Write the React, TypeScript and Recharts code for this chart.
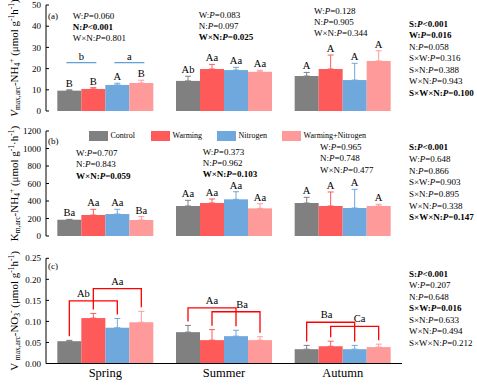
import React from 'react';
import { BarChart, Bar, XAxis, YAxis, ErrorBar, Legend, Label } from 'recharts';

const FONT = '"Liberation Serif", "Times New Roman", Times, serif';

// ---------- categories / series ----------
const seasons = ['Spring', 'Summer', 'Autumn'];
const treatments = ['Control', 'Warming', 'Nitrogen', 'Warming+Nitrogen'];
const seriesKeys = ['c', 'w', 'n', 'wn'];
const seriesColors = ['#808080', '#ff5a5a', '#6fa8dc', '#ff9a9a'];

// ---------- (a) Vmax,arc-NH4+ ----------
const vmaxNH4Control = [9.6, 14.2, 16.5];
const vmaxNH4Warming = [10.4, 19.8, 19.8];
const vmaxNH4Nitrogen = [12.3, 19.3, 14.6];
const vmaxNH4WN = [13.2, 18.5, 23.6];
const vmaxNH4ControlSE = [0.4, 2.2, 1.7];
const vmaxNH4WarmingSE = [0.6, 2.2, 6.6];
const vmaxNH4NitrogenSE = [0.8, 1.3, 7.9];
const vmaxNH4WNSE = [1.3, 0.7, 4.8];
const vmaxNH4ControlLetters = ['B', 'Ab', 'A'];
const vmaxNH4WarmingLetters = ['B', 'Aa', 'A'];
const vmaxNH4NitrogenLetters = ['A', 'Aa', 'A'];
const vmaxNH4WNLetters = ['B', 'Aa', 'A'];
const vmaxNH4Groups = [
  { season: 0, from: 0, to: 1, level: 22.8, label: 'b' },
  { season: 0, from: 2, to: 3, level: 22.8, label: 'a' },
];
const vmaxNH4Ticks = [0, 10, 20, 30, 40, 50];

// ---------- (b) Km,arc-NH4+ ----------
const kmNH4Control = [186, 343, 377];
const kmNH4Warming = [240, 377, 343];
const kmNH4Nitrogen = [251, 419, 320];
const kmNH4WN = [183, 316, 343];
const kmNH4ControlSE = [4, 65, 65];
const kmNH4WarmingSE = [65, 46, 160];
const kmNH4NitrogenSE = [54, 87, 213];
const kmNH4WNSE = [38, 53, 19];
const kmNH4ControlLetters = ['Ba', 'Aa', 'A'];
const kmNH4WarmingLetters = ['Aa', 'Aa', 'A'];
const kmNH4NitrogenLetters = ['Aa', 'Aa', 'A'];
const kmNH4WNLetters = ['Ba', 'Aa', 'A'];
const kmNH4Ticks = [0, 200, 400, 600, 800, 1000, 1200];

// ---------- (c) Vmax,arc-NO3- ----------
const vmaxNO3Control = [0.053, 0.0745, 0.034];
const vmaxNO3Warming = [0.108, 0.0555, 0.041];
const vmaxNO3Nitrogen = [0.085, 0.065, 0.034];
const vmaxNO3WN = [0.098, 0.0555, 0.039];
const vmaxNO3ControlSE = [0.002, 0.016, 0.009];
const vmaxNO3WarmingSE = [0.011, 0.025, 0.012];
const vmaxNO3NitrogenSE = [0.022, 0.014, 0.009];
const vmaxNO3WNSE = [0.026, 0.008, 0.007];
const vmaxNO3Brackets = [
  { season: 0, from: 0, to: 2, level: 0.149, label: 'Ab' },
  { season: 0, from: 1, to: 3, level: 0.178, label: 'Aa' },
  { season: 1, from: 0, to: 2, level: 0.132, label: 'Aa' },
  { season: 1, from: 1, to: 3, level: 0.123, label: 'Ba' },
  { season: 2, from: 0, to: 2, level: 0.098, label: 'Ba' },
  { season: 2, from: 1, to: 3, level: 0.088, label: 'Ca' },
];
const bracketLabelShift = [-10, 0, 0, 6, -4, 5];
const vmaxNO3Ticks = [0, 0.05, 0.1, 0.15, 0.2, 0.25];

// ---------- statistics text ----------
const seasonStatsA = [
  ['W:P=0.060', 'N:P<0.001', 'W×N:P=0.801'],
  ['W:P=0.083', 'N:P=0.097', 'W×N:P=0.025'],
  ['W:P=0.128', 'N:P=0.905', 'W×N:P=0.344'],
];
const seasonBoldA = [[false, true, false], [false, false, true], [false, false, false]];
const seasonStatsB = [
  ['W:P=0.707', 'N:P=0.843', 'W×N:P=0.059'],
  ['W:P=0.373', 'N:P=0.962', 'W×N:P=0.103'],
  ['W:P=0.965', 'N:P=0.748', 'W×N:P=0.477'],
];
const seasonBoldB = [[false, false, true], [false, false, true], [false, false, false]];
const statsA = ['S:P<0.001', 'W:P=0.016', 'N:P=0.058', 'S×W:P=0.316', 'S×N:P=0.388', 'W×N:P=0.943', 'S×W×N:P=0.100'];
const statsABold = [true, true, false, false, false, false, true];
const statsB = ['S:P<0.001', 'W:P=0.648', 'N:P=0.866', 'S×W:P=0.903', 'S×N:P=0.895', 'W×N:P=0.338', 'S×W×N:P=0.147'];
const statsBBold = [true, false, false, false, false, false, true];
const statsC = ['S:P<0.001', 'W:P=0.207', 'N:P=0.648', 'S×W:P=0.016', 'S×N:P=0.633', 'W×N:P=0.494', 'S×W×N:P=0.212'];
const statsCBold = [true, false, false, true, false, false, false];

type Group = { season: number; from: number; to: number; level: number; label: string };
type Panel = {
  vals: number[][];
  ses: number[][];
  letters?: string[][];
  groups?: Group[];
  brackets?: Group[];
  ticks: number[];
  fmt?: (v: number) => string;
  axisLabel: (props: any) => React.ReactElement;
};

function buildRows(p: Panel) {
  return seasons.map((season, i) => {
    const row: any = { season };
    seriesKeys.forEach((k, j) => {
      row[k] = p.vals[j][i];
      row[k + 'SE'] = [0, p.ses[j][i]];
    });
    return row;
  });
}

function makeShape(p: Panel, j: number) {
  return (props: any) => {
    const { x, y, width, height, payload } = props;
    const i = seasons.indexOf(payload?.season);
    const v = p.vals[j][i];
    if (!(height > 0) || !v) return <g />;
    const ppu = height / v;
    const base = y + height;
    const py = (val: number) => base - val * ppu;
    const cx = x + width / 2;
    const els: React.ReactElement[] = [
      <rect key="r" x={x} y={y} width={width} height={height} fill={seriesColors[j]} />,
    ];
    if (p.letters) {
      els.push(
        <text key="l" x={cx} y={py(v + p.ses[j][i]) - 3} textAnchor="middle" fontSize={10.5} fontFamily={FONT} fill="#000">
          {p.letters[j][i]}
        </text>
      );
    }
    (p.groups || []).forEach((g, gi) => {
      if (g.season !== i || g.from !== j) return;
      const x1 = cx - 3;
      const x2 = cx + (g.to - g.from) * width + 3;
      const yl = py(g.level);
      els.push(<line key={'g' + gi} x1={x1} x2={x2} y1={yl} y2={yl} stroke="#5b9bd5" strokeWidth={1.2} />);
      els.push(
        <text key={'gt' + gi} x={(x1 + x2) / 2} y={yl - 3} textAnchor="middle" fontSize={10.5} fontFamily={FONT} fill="#000">
          {g.label}
        </text>
      );
    });
    (p.brackets || []).forEach((b, bi) => {
      if (b.season !== i || b.from !== j) return;
      const x1 = cx;
      const x2 = cx + (b.to - b.from) * width;
      const yb = py(b.level);
      const l1 = py(v + p.ses[j][i]) - 4;
      const l2 = py(p.vals[b.to][i] + p.ses[b.to][i]) - 4;
      els.push(
        <path key={'b' + bi} d={`M${x1},${l1}L${x1},${yb}L${x2},${yb}L${x2},${l2}`} fill="none" stroke="#ff0000" strokeWidth={1.3} />
      );
      els.push(
        <text key={'bt' + bi} x={(x1 + x2) / 2 + bracketLabelShift[bi]} y={yb - 4} textAnchor="middle" fontSize={10.5} fontFamily={FONT} fill="#000">
          {b.label}
        </text>
      );
    });
    return <g>{els}</g>;
  };
}

function rotatedLabel(children: React.ReactNode) {
  return (props: any) => {
    const vb = props.viewBox || {};
    const cy = (vb.y ?? 0) + (vb.height ?? 0) / 2;
    const bx = 18;
    return (
      <text transform="rotate(-90)" x={-cy} y={bx} textAnchor="middle" fontSize={11} fontFamily={FONT} fill="#000">
        {children}
      </text>
    );
  };
}

const S = 7.5;
const labelA = rotatedLabel([
  <tspan key="1" fontStyle="italic">V</tspan>,
  <tspan key="2" fontSize={S} dy={2}>max,arc</tspan>,
  <tspan key="3" dy={-2}>-NH</tspan>,
  <tspan key="4" fontSize={S} dy={2}>4</tspan>,
  <tspan key="5" fontSize={S} dy={-6}>+</tspan>,
  <tspan key="6" dy={4}> (μmol g</tspan>,
  <tspan key="7" fontSize={S} dy={-4}>-1</tspan>,
  <tspan key="8" dy={4}>h</tspan>,
  <tspan key="9" fontSize={S} dy={-4}>-1</tspan>,
  <tspan key="10" dy={4}>)</tspan>,
]);
const labelB = rotatedLabel([
  <tspan key="1">K</tspan>,
  <tspan key="2" fontSize={S} dy={2}>m,arc</tspan>,
  <tspan key="3" dy={-2}>-NH</tspan>,
  <tspan key="4" fontSize={S} dy={2}>4</tspan>,
  <tspan key="5" fontSize={S} dy={-6}>+</tspan>,
  <tspan key="6" dy={4}> (μmol g</tspan>,
  <tspan key="7" fontSize={S} dy={-4}>-1</tspan>,
  <tspan key="8" dy={4}>·h</tspan>,
  <tspan key="9" fontSize={S} dy={-4}>-1</tspan>,
  <tspan key="10" dy={4}>)</tspan>,
]);
const labelC = rotatedLabel([
  <tspan key="1">V </tspan>,
  <tspan key="2" fontSize={S} dy={2}>max,arc</tspan>,
  <tspan key="3" dy={-2}>-NO</tspan>,
  <tspan key="4" fontSize={S} dy={2}>3</tspan>,
  <tspan key="5" fontSize={S} dy={-6}>-</tspan>,
  <tspan key="6" dy={4}> (μmol g</tspan>,
  <tspan key="7" fontSize={S} dy={-4}>-1</tspan>,
  <tspan key="8" dy={4}>h</tspan>,
  <tspan key="9" fontSize={S} dy={-4}>-1</tspan>,
  <tspan key="10" dy={4}>)</tspan>,
]);

const panelA: Panel = {
  vals: [vmaxNH4Control, vmaxNH4Warming, vmaxNH4Nitrogen, vmaxNH4WN],
  ses: [vmaxNH4ControlSE, vmaxNH4WarmingSE, vmaxNH4NitrogenSE, vmaxNH4WNSE],
  letters: [vmaxNH4ControlLetters, vmaxNH4WarmingLetters, vmaxNH4NitrogenLetters, vmaxNH4WNLetters],
  groups: vmaxNH4Groups,
  ticks: vmaxNH4Ticks,
  axisLabel: labelA,
};
const panelB: Panel = {
  vals: [kmNH4Control, kmNH4Warming, kmNH4Nitrogen, kmNH4WN],
  ses: [kmNH4ControlSE, kmNH4WarmingSE, kmNH4NitrogenSE, kmNH4WNSE],
  letters: [kmNH4ControlLetters, kmNH4WarmingLetters, kmNH4NitrogenLetters, kmNH4WNLetters],
  ticks: kmNH4Ticks,
  axisLabel: labelB,
};
const panelC: Panel = {
  vals: [vmaxNO3Control, vmaxNO3Warming, vmaxNO3Nitrogen, vmaxNO3WN],
  ses: [vmaxNO3ControlSE, vmaxNO3WarmingSE, vmaxNO3NitrogenSE, vmaxNO3WNSE],
  brackets: vmaxNO3Brackets,
  ticks: vmaxNO3Ticks,
  fmt: (v: number) => v.toFixed(2),
  axisLabel: labelC,
};

const legendX = [89, 151, 217, 282];

function renderLegend(props: any) {
  const payload = [...(props.payload || [])].sort(
    (a: any, b: any) => treatments.indexOf(a.value) - treatments.indexOf(b.value)
  );
  return (
    <div style={{ position: 'relative', width: 477, height: 11 }}>
      {payload.map((e: any, i: number) => (
        <div key={i} style={{ position: 'absolute', left: legendX[i], top: 0, display: 'flex', alignItems: 'center', whiteSpace: 'nowrap' }}>
          <span style={{ display: 'inline-block', width: 19, height: 10, background: e.color }} />
          <span style={{ fontSize: 8, fontFamily: FONT, color: '#000', marginLeft: 2.5, lineHeight: '10px' }}>{e.value}</span>
        </div>
      ))}
    </div>
  );
}

function PanelChart(props: { panel: Panel; height: number; margin: any; showX?: boolean; legend?: boolean }) {
  const { panel, height, margin, showX, legend } = props;
  const rows = buildRows(panel);
  const dom = [panel.ticks[0], panel.ticks[panel.ticks.length - 1]];
  return (
    <BarChart width={477} height={height} data={rows} margin={margin} barGap={0} barCategoryGap={11.33}>
      <XAxis
        dataKey="season"
        axisLine={{ stroke: '#000', strokeWidth: 1 }}
        tickLine={false}
        tick={showX ? { fontSize: 12.5, fill: '#000', fontFamily: FONT } : false}
        height={showX ? 21.5 : 0}
        tickSize={0}
        tickMargin={5}
        interval={0}
      />
      <YAxis
        type="number"
        domain={dom}
        ticks={panel.ticks}
        interval={0}
        width={30}
        tickSize={-3}
        tickMargin={8}
        axisLine={{ stroke: '#000', strokeWidth: 1 }}
        tickLine={{ stroke: '#000' }}
        tick={{ fontSize: 9, fill: '#000', fontFamily: FONT }}
        tickFormatter={panel.fmt}
        label={<Label content={panel.axisLabel} />}
      />
      {seriesKeys.map((k, j) => (
        <Bar key={k} dataKey={k} name={treatments[j]} fill={seriesColors[j]} isAnimationActive={false} shape={makeShape(panel, j)}>
          <ErrorBar dataKey={k + 'SE'} width={3} stroke={seriesColors[j]} strokeWidth={1} direction="y" />
        </Bar>
      ))}
      {legend && (
        <Legend
          layout="vertical"
          verticalAlign="middle"
          align="center"
          content={renderLegend}
          wrapperStyle={{ top: 8.7, left: 0, width: 477, height: 11 }}
        />
      )}
    </BarChart>
  );
}

function StatLine(props: { x: number; y: number; s: string; bold: boolean }) {
  const [pre, post] = props.s.split('P');
  return (
    <text x={props.x} y={props.y} fontSize={9} fontFamily={FONT} fill="#000" fontWeight={props.bold ? 'bold' : 'normal'}>
      <tspan>{pre}</tspan>
      <tspan fontStyle="italic">P</tspan>
      <tspan>{post}</tspan>
    </text>
  );
}

function Overlay() {
  const blockAX = [72.7, 198.7, 314];
  const blockAY = [18.5, 17.5, 13.5];
  const blockBX = [76, 202.7, 320];
  const blockBY = [156, 154.5, 150];
  const els: React.ReactElement[] = [];
  seasonStatsA.forEach((lines, si) =>
    lines.forEach((s, li) =>
      els.push(<StatLine key={`a${si}${li}`} x={blockAX[si]} y={blockAY[si] + li * 11.2} s={s} bold={seasonBoldA[si][li]} />)
    )
  );
  seasonStatsB.forEach((lines, si) =>
    lines.forEach((s, li) =>
      els.push(<StatLine key={`b${si}${li}`} x={blockBX[si]} y={blockBY[si] + li * 11.3} s={s} bold={seasonBoldB[si][li]} />)
    )
  );
  statsA.forEach((s, i) => els.push(<StatLine key={`ra${i}`} x={409} y={26.8 + i * 11.45} s={s} bold={statsABold[i]} />));
  statsB.forEach((s, i) => els.push(<StatLine key={`rb${i}`} x={409} y={150.2 + i * 11.67} s={s} bold={statsBBold[i]} />));
  statsC.forEach((s, i) => els.push(<StatLine key={`rc${i}`} x={409} y={276.8 + i * 11.45} s={s} bold={statsCBold[i]} />));
  return (
    <svg width={477} height={385} style={{ position: 'absolute', left: 0, top: 0, pointerEvents: 'none' }}>
      <text x={48} y={18.5} fontSize={9} fontFamily={FONT} fill="#000">(a)</text>
      <text x={48} y={144} fontSize={9} fontFamily={FONT} fill="#000">(b)</text>
      <text x={48} y={269} fontSize={9} fontFamily={FONT} fill="#000">(c)</text>
      {els}
    </svg>
  );
}

export default function App() {
  return (
    <div style={{ position: 'absolute', left: 0, top: 0, width: 477, height: 385, background: '#fff', overflow: 'hidden', fontFamily: FONT }}>
      <div style={{ position: 'absolute', left: 0, top: 0 }}>
        <PanelChart panel={panelA} height={122} margin={{ top: 5, right: 75, bottom: 11, left: 16 }} />
      </div>
      <div style={{ position: 'absolute', left: 0, top: 122 }}>
        <PanelChart panel={panelB} height={125} margin={{ top: 9, right: 75, bottom: 11, left: 16 }} legend />
      </div>
      <div style={{ position: 'absolute', left: 0, top: 247 }}>
        <PanelChart panel={panelC} height={138} margin={{ top: 11.3, right: 75, bottom: 0, left: 16 }} showX />
      </div>
      <Overlay />
    </div>
  );
}
